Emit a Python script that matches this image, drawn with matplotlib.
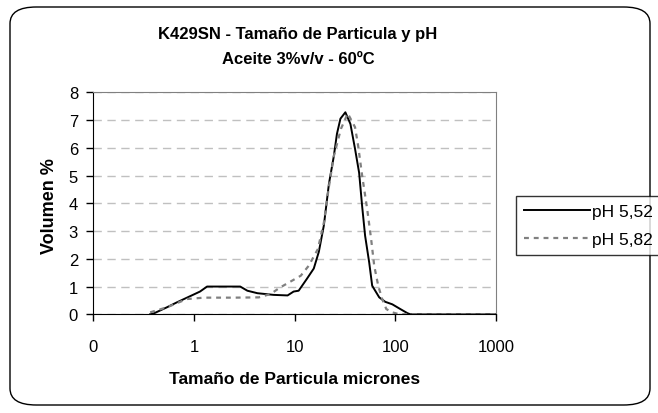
import numpy as np
import matplotlib
matplotlib.use("Agg")
import matplotlib.pyplot as plt
from matplotlib.patches import FancyBboxPatch

plt.rcParams['font.family'] = ['Liberation Sans', 'DejaVu Sans']

# particle size (microns) and volume %
size_552 = [0.367, 0.398, 0.537, 0.676, 0.912, 1.148, 1.349, 1.70, 2.24, 2.88, 3.39,
            4.27, 6.17, 8.51, 9.77, 10.96, 13.18, 15.49, 17.38, 19.5, 21.9, 24.5,
            26.3, 28.5, 31.9, 35.8, 39.8, 43.7, 46.8, 50.1, 55.0, 58.9, 69.2, 79.4,
            93.3, 112, 132, 141, 200, 500, 1000]
vol_552 = [0.0, 0.03, 0.25, 0.43, 0.65, 0.82, 1.0, 1.0, 1.0, 1.0, 0.85,
           0.76, 0.70, 0.68, 0.82, 0.85, 1.27, 1.65, 2.25, 3.2, 4.7, 5.7,
           6.5, 7.05, 7.28, 6.86, 5.96, 5.1, 3.9, 2.83, 1.87, 1.03, 0.61, 0.45,
           0.36, 0.19, 0.04, 0.0, 0.0, 0.0, 0.0]

size_582 = [0.367, 0.537, 0.85, 1.26, 2.5, 4.4, 5.75, 7.2, 9.1, 11.5, 13.8, 17.0,
            19.5, 21.9, 24.5, 28.8, 33.7, 39.8, 42.7, 46.8, 52.5, 57.5, 61.7,
            67.6, 74.1, 81.3, 93.3, 110, 200, 500, 1000]
vol_582 = [0.07, 0.25, 0.55, 0.6, 0.6, 0.61, 0.73, 0.97, 1.18, 1.39, 1.75, 2.35,
           3.3, 4.6, 5.7, 6.68, 7.24, 6.74, 6.08, 5.0, 3.8, 2.71, 1.75,
           1.03, 0.55, 0.19, 0.07, 0.0, 0.0, 0.0, 0.0]

x_ticks = [0.1, 1, 10, 100, 1000]
x_tick_labels = ['0', '1', '10', '100', '1000']
y_ticks = [0, 1, 2, 3, 4, 5, 6, 7, 8]

W, H = 658, 414
fig = plt.figure(figsize=(W / 100, H / 100), dpi=100)

# rounded chart border
fig.patches.append(FancyBboxPatch((10 / W, 8 / H), 640 / W, 398 / H,
                                  boxstyle="round,pad=0,rounding_size=0.04",
                                  transform=fig.transFigure, fill=False,
                                  edgecolor='black', linewidth=1))

ax = fig.add_axes([93.3 / W, (H - 315.3) / H, (496 - 93.3) / W, (315.3 - 93.3) / H])
ax.plot(size_552, vol_552, color='black', lw=1.4, label='pH 5,52')
ax.plot(size_582, vol_582, color='#808080', lw=1.6, ls=(0, (2.2, 2.2)), label='pH 5,82')

ax.set_xscale('log')
ax.set_xlim(0.1, 1000)
ax.set_ylim(0, 8)
ax.set_xticks(x_ticks)
ax.set_xticklabels(x_tick_labels)
ax.xaxis.set_minor_locator(matplotlib.ticker.NullLocator())
ax.set_yticks(y_ticks)
ax.tick_params(axis='both', direction='out', length=5, width=1, labelsize=12, color='black')
ax.tick_params(axis='x', pad=13)
ax.tick_params(axis='y', pad=6)
ax.yaxis.grid(True, color='#c0c0c0', ls=(0, (6, 4)), lw=1)
ax.set_axisbelow(True)

for s in ['top', 'right']:
    ax.spines[s].set_color('#808080')
for s in ['left', 'bottom']:
    ax.spines[s].set_color('black')

fig.text(295 / W, 1 - 380 / H, 'Tamaño de Particula micrones', ha='center', va='center',
         fontsize=12.5, fontweight='bold')
fig.text(50 / W, 1 - 206 / H, 'Volumen %', ha='center', va='center', rotation=90,
         fontsize=13, fontweight='bold')

fig.text(298 / W, 1 - 34 / H, 'K429SN - Tamaño de Particula y pH', ha='center', va='center',
         fontsize=12, fontweight='bold')
fig.text(298 / W, 1 - 60 / H, 'Aceite 3%v/v - 60ºC', ha='center', va='center',
         fontsize=12, fontweight='bold')

leg = fig.legend(loc='upper left', bbox_to_anchor=(516 / W, 1 - 197 / H), fontsize=12.5,
                 frameon=True, fancybox=False, edgecolor='black', handlelength=3.8,
                 handletextpad=0.1, borderpad=0.45, labelspacing=0.75, borderaxespad=0)
leg.get_frame().set_linewidth(1)

fig.savefig('out.png', dpi=100)
